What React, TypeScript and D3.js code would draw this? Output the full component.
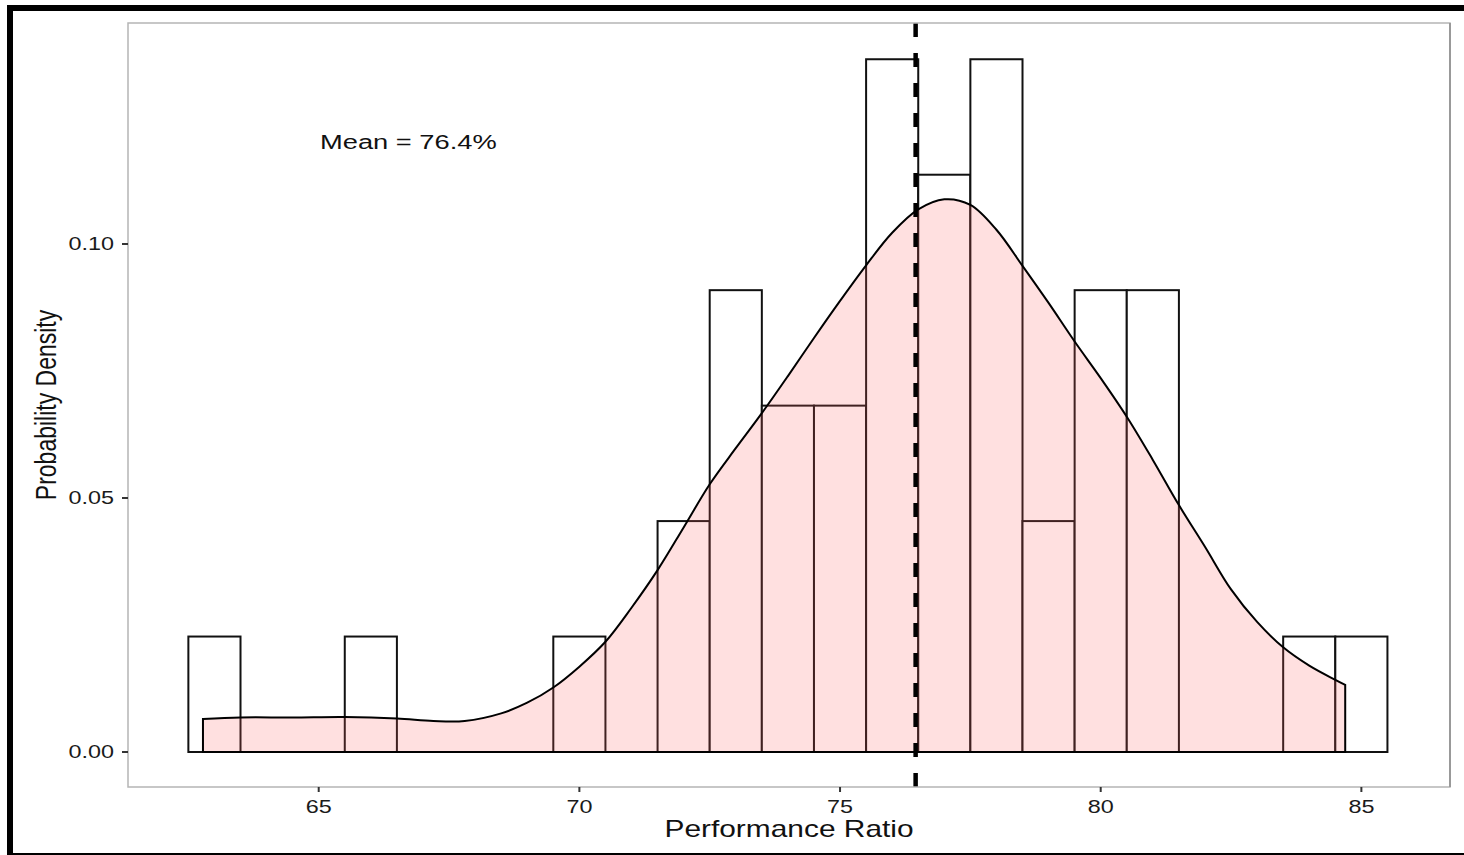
import React, { useEffect } from "react";
import * as d3 from "d3";

// Histogram bins (bin width 1, centred on integers)
const binCenters = [63, 64, 65, 66, 67, 68, 69, 70, 71, 72, 73, 74, 75, 76, 77, 78, 79, 80, 81, 82, 83, 84, 85];
const binCounts = [1, 0, 0, 1, 0, 0, 0, 1, 0, 2, 4, 3, 3, 6, 5, 6, 2, 4, 4, 0, 0, 1, 1];

// Kernel density estimate
const densityX = [62.78, 63.5, 64.5, 65.5, 66.5, 67.2, 67.8, 68.5, 69.0, 69.5, 70.0, 70.5, 71.0, 71.5, 72.0, 72.5, 73.0, 73.5, 74.0, 74.5, 75.0, 75.5, 76.0, 76.5, 77.0, 77.5, 78.0, 78.5, 79.0, 79.5, 80.0, 80.5, 81.0, 81.5, 82.0, 82.5, 83.0, 83.5, 84.0, 84.5, 84.69];
const densityY = [0.0065, 0.0068, 0.0068, 0.0069, 0.0066, 0.0061, 0.0061, 0.0076, 0.0097, 0.0127, 0.0168, 0.0217, 0.0284, 0.0358, 0.0442, 0.0527, 0.0598, 0.0667, 0.074, 0.0815, 0.0888, 0.0958, 0.1022, 0.1068, 0.1088, 0.1077, 0.1028, 0.0957, 0.0884, 0.0808, 0.0736, 0.066, 0.0575, 0.0486, 0.0404, 0.032, 0.0256, 0.0206, 0.017, 0.0142, 0.0132];

const meanValue = 76.45;
const meanLabel = "Mean = 76.4%";
const xTicks = [65, 70, 75, 80, 85];
const yTicks = [0, 0.05, 0.1];
const yTickLabels = ["0.00", "0.05", "0.10"];
const xTitle = "Performance Ratio";
const yTitle = "Probability Density";

const W = 1464;
const H = 855;
const panel = { left: 128, right: 1450, top: 23, bottom: 787 };
const FONT = "'Liberation Sans', Arial, Helvetica, sans-serif";
const SX = 1.3;

export default function App() {
  useEffect(() => {
    document.body.style.margin = "0";
  }, []);

  const total = d3.sum(binCounts);
  const x = d3.scaleLinear().domain([61.342, 86.7]).range([panel.left, panel.right]);
  const y = d3.scaleLinear().domain([-0.00689, 0.1435]).range([panel.bottom, panel.top]);

  const pts = densityX.map((d, i) => [d, densityY[i]] as [number, number]);
  const area = d3
    .area<[number, number]>()
    .x((d) => x(d[0]))
    .y0(y(0))
    .y1((d) => y(d[1]))
    .curve(d3.curveCatmullRom.alpha(0.5));

  return (
    <svg width={W} height={H} style={{ display: "block" }} xmlns="http://www.w3.org/2000/svg">
      <rect x={0} y={0} width={W} height={H} fill="#fff" />
      {/* outer frame */}
      <rect x={7} y={5} width={W - 7} height={6} fill="#000" />
      <rect x={7} y={5} width={6} height={850} fill="#000" />
      <rect x={7} y={853} width={W - 7} height={2} fill="#000" />

      {/* histogram bars */}
      {binCenters.map((c, i) => (
        <rect
          key={c}
          x={x(c - 0.5)}
          y={y(binCounts[i] / total)}
          width={x(c + 0.5) - x(c - 0.5)}
          height={y(0) - y(binCounts[i] / total)}
          fill="#fff"
          stroke="#111"
          strokeWidth={2}
        />
      ))}

      {/* density */}
      <path d={area(pts) || ""} fill="#FF6666" fillOpacity={0.2} stroke="none" />
      <path d={area(pts) || ""} fill="none" stroke="#000" strokeWidth={2} />

      {/* mean line */}
      <line
        x1={x(meanValue)}
        x2={x(meanValue)}
        y1={panel.top}
        y2={panel.bottom}
        stroke="#000"
        strokeWidth={4.5}
        strokeDasharray="14 16"
      />

      {/* panel border */}
      <rect
        x={panel.left}
        y={panel.top}
        width={panel.right - panel.left}
        height={panel.bottom - panel.top}
        fill="none"
        stroke="#b5b5b5"
        strokeWidth={1.5}
      />
      <line x1={panel.right} x2={panel.right} y1={panel.top} y2={panel.bottom} stroke="#999" strokeWidth={2} />

      {/* x axis */}
      {xTicks.map((t) => (
        <g key={t}>
          <line x1={x(t)} x2={x(t)} y1={panel.bottom} y2={panel.bottom + 5} stroke="#333" strokeWidth={2} />
          <text
            transform={`translate(${x(t)},${813}) scale(${SX},1)`}
            textAnchor="middle"
            fontFamily={FONT}
            fontSize={18}
            fill="#1a1a1a"
          >
            {t}
          </text>
        </g>
      ))}

      {/* y axis */}
      {yTicks.map((t, i) => (
        <g key={t}>
          <line x1={panel.left - 6} x2={panel.left} y1={y(t)} y2={y(t)} stroke="#333" strokeWidth={2} />
          <text
            transform={`translate(${114},${y(t) + 6.5}) scale(${SX},1)`}
            textAnchor="end"
            fontFamily={FONT}
            fontSize={18}
            fill="#1a1a1a"
          >
            {yTickLabels[i]}
          </text>
        </g>
      ))}

      {/* titles */}
      <text
        transform={`translate(${(panel.left + panel.right) / 2},${837}) scale(${SX},1)`}
        textAnchor="middle"
        fontFamily={FONT}
        fontSize={23}
        fill="#111"
      >
        {xTitle}
      </text>
      <text
        transform={`translate(${56},${(panel.top + panel.bottom) / 2}) scale(${SX},1) rotate(-90)`}
        textAnchor="middle"
        fontFamily={FONT}
        fontSize={23}
        fill="#111"
      >
        {yTitle}
      </text>

      {/* annotation */}
      <text
        transform={`translate(${320},${149}) scale(${SX},1)`}
        textAnchor="start"
        fontFamily={FONT}
        fontSize={21}
        fill="#111"
      >
        {meanLabel}
      </text>
    </svg>
  );
}
